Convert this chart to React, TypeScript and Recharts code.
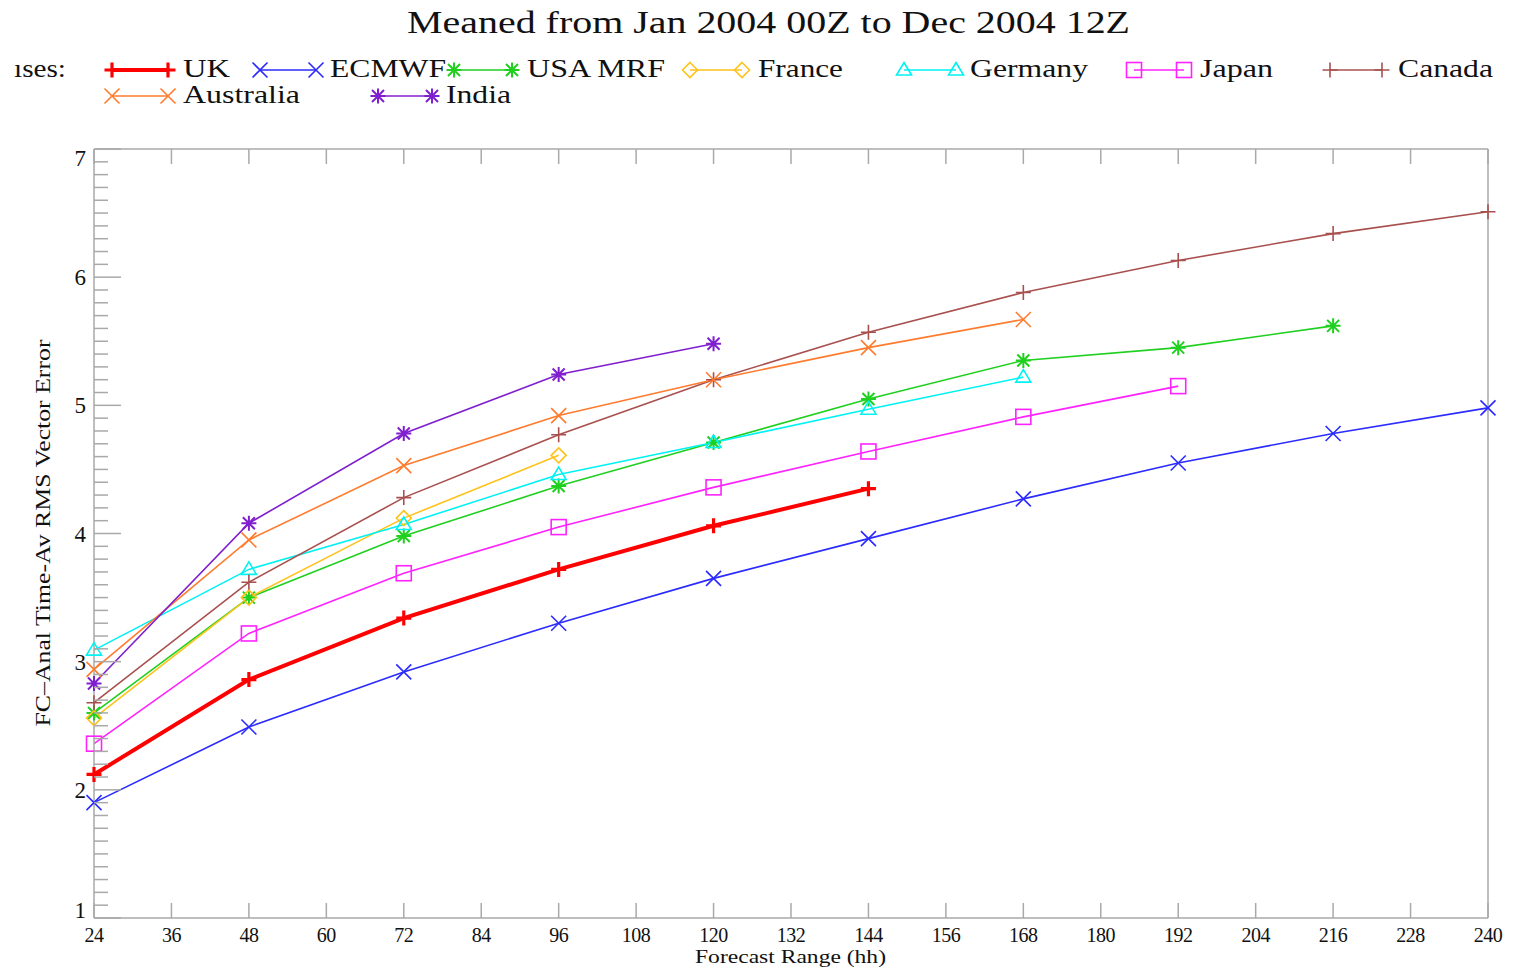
import React from 'react';
import { LineChart, Line, XAxis, YAxis } from 'recharts';

// forecast hours and RMS vector error per centre
const hours = [24, 48, 72, 96, 120, 144, 168, 192, 216, 240];
const ukValues = [2.12, 2.86, 3.34, 3.72, 4.06, 4.35];
const ecmwfValues = [1.9, 2.49, 2.92, 3.3, 3.65, 3.96, 4.27, 4.55, 4.78, 4.98];
const usaMrfValues = [2.6, 3.5, 3.98, 4.37, 4.71, 5.05, 5.35, 5.45, 5.62];
const franceValues = [2.56, 3.5, 4.12, 4.61];
const germanyValues = [3.09, 3.72, 4.07, 4.46, 4.71, 4.97, 5.22];
const japanValues = [2.36, 3.22, 3.69, 4.05, 4.36, 4.64, 4.91, 5.15];
const canadaValues = [2.68, 3.62, 4.28, 4.77, 5.2, 5.57, 5.88, 6.13, 6.34, 6.51];
const australiaValues = [2.94, 3.95, 4.53, 4.92, 5.2, 5.45, 5.67];
const indiaValues = [2.83, 4.08, 4.78, 5.24, 5.48];

const xTicks = [24, 36, 48, 60, 72, 84, 96, 108, 120, 132, 144, 156, 168, 180, 192, 204, 216, 228, 240];
const yTicks = [1, 2, 3, 4, 5, 6, 7];
// minor ticks every 0.1 between the labelled ones
const yAllTicks = Array.from({ length: 61 }, (_, i) => Math.round((1 + i * 0.1) * 10) / 10);

type Kind = 'plus' | 'x' | 'star' | 'diamond' | 'triangle' | 'square';

const series = [
  { key: 'uk', name: 'UK', values: ukValues, color: '#ff0000', kind: 'plus' as Kind, width: 4 },
  { key: 'ecmwf', name: 'ECMWF', values: ecmwfValues, color: '#2b2bff', kind: 'x' as Kind, width: 1.6 },
  { key: 'usa', name: 'USA MRF', values: usaMrfValues, color: '#1fd01f', kind: 'star' as Kind, width: 1.6 },
  { key: 'france', name: 'France', values: franceValues, color: '#ffc21a', kind: 'diamond' as Kind, width: 1.6 },
  { key: 'germany', name: 'Germany', values: germanyValues, color: '#00f2f2', kind: 'triangle' as Kind, width: 1.6 },
  { key: 'japan', name: 'Japan', values: japanValues, color: '#ff22ff', kind: 'square' as Kind, width: 1.6 },
  { key: 'canada', name: 'Canada', values: canadaValues, color: '#a8504e', kind: 'plus' as Kind, width: 1.6 },
  { key: 'australia', name: 'Australia', values: australiaValues, color: '#ff7b2e', kind: 'x' as Kind, width: 1.6 },
  { key: 'india', name: 'India', values: indiaValues, color: '#7f1fcf', kind: 'star' as Kind, width: 1.6 },
];

const data = hours.map((h, i) => {
  const row: Record<string, number | undefined> = { hour: h };
  series.forEach((s) => { row[s.key] = s.values[i]; });
  return row;
});

// legend layout: [series key, line start, line end, row y, text x, text width]
const legendLayout: [string, number, number, number, number, number][] = [
  ['uk', 112, 168, 70, 183, 47],
  ['ecmwf', 260, 316, 70, 330, 116],
  ['usa', 454, 512, 70, 527, 138],
  ['france', 690, 742, 70, 758, 85],
  ['germany', 904, 956, 70, 970, 118],
  ['japan', 1134, 1184, 70, 1200, 73],
  ['canada', 1330, 1382, 70, 1398, 95],
  ['australia', 112, 168, 96, 183, 117],
  ['india', 378, 432, 96, 446, 65],
];

const GRAY = '#a9a9a9';
const FONT = '"Liberation Serif", "DejaVu Serif", serif';

function Marker({ kind, cx, cy, color, bold }: { kind: Kind; cx: number; cy: number; color: string; bold?: boolean }) {
  const s = 7.5;
  const sw = bold ? 3.2 : 1.6;
  const common = { stroke: color, strokeWidth: sw, fill: 'none' };
  switch (kind) {
    case 'plus':
      return <path d={`M${cx - s},${cy}H${cx + s}M${cx},${cy - s}V${cy + s}`} {...common} />;
    case 'x':
      return <path d={`M${cx - s},${cy - s}L${cx + s},${cy + s}M${cx - s},${cy + s}L${cx + s},${cy - s}`} {...common} />;
    case 'star':
      return (
        <path
          d={`M${cx - s},${cy}H${cx + s}M${cx},${cy - s}V${cy + s}M${cx - 6},${cy - 6}L${cx + 6},${cy + 6}M${cx - 6},${cy + 6}L${cx + 6},${cy - 6}`}
          {...common}
          strokeWidth={2}
        />
      );
    case 'diamond':
      return <path d={`M${cx},${cy - s}L${cx + s},${cy}L${cx},${cy + s}L${cx - s},${cy}Z`} {...common} />;
    case 'triangle':
      return <path d={`M${cx},${cy - s}L${cx + s},${cy + 5}L${cx - s},${cy + 5}Z`} {...common} />;
    case 'square':
      return <rect x={cx - s} y={cy - s} width={2 * s} height={2 * s} {...common} />;
  }
  return null;
}

function LeftTick(props: any) {
  const { x, y, payload } = props;
  const v = payload.value;
  const major = yTicks.includes(v);
  let ly = y + 8;
  if (v === 7) ly = y + 17;
  if (v === 1) ly = y;
  return (
    <g>
      <line x1={x} x2={x + (major ? 27 : 14)} y1={y} y2={y} stroke={GRAY} strokeWidth={1.5} />
      {major && (
        <text x={x - 8} y={ly} textAnchor="end" fontFamily={FONT} fontSize={23} fill="#111">
          {v}
        </text>
      )}
    </g>
  );
}

function RightTick(props: any) {
  const { x, y, payload } = props;
  const major = yTicks.includes(payload.value);
  return <line x1={x} x2={x - (major ? 27 : 14)} y1={y} y2={y} stroke={GRAY} strokeWidth={1.5} />;
}

function BottomTick(props: any) {
  const { x, y, payload } = props;
  return (
    <g>
      <line x1={x} x2={x} y1={y} y2={y - 15} stroke={GRAY} strokeWidth={1.5} />
      <text x={x} y={y + 24} textAnchor="middle" fontFamily={FONT} fontSize={20} letterSpacing={-0.5} fill="#111">
        {payload.value}
      </text>
    </g>
  );
}

function TopTick(props: any) {
  const { x, y } = props;
  return <line x1={x} x2={x} y1={y} y2={y + 15} stroke={GRAY} strokeWidth={1.5} />;
}

export default function App() {
  return (
    <div style={{ position: 'absolute', left: 0, top: 0, width: 1513, height: 968, background: '#fff' }}>
      <LineChart width={1513} height={968} data={data} margin={{ top: 148, right: 24, bottom: 49, left: 93 }}>
        <XAxis
          dataKey="hour"
          type="number"
          domain={[24, 240]}
          ticks={xTicks}
          interval={0}
          tickSize={0}
          tickMargin={0}
          height={1}
          axisLine={{ stroke: GRAY, strokeWidth: 1.5 }}
          tickLine={false}
          tick={<BottomTick />}
        />
        <XAxis
          xAxisId="top"
          orientation="top"
          dataKey="hour"
          type="number"
          domain={[24, 240]}
          ticks={xTicks}
          interval={0}
          tickSize={0}
          tickMargin={0}
          height={1}
          axisLine={{ stroke: GRAY, strokeWidth: 1.5 }}
          tickLine={false}
          tick={<TopTick />}
        />
        <YAxis
          type="number"
          domain={[1, 7]}
          ticks={yAllTicks}
          interval={0}
          tickSize={0}
          tickMargin={0}
          width={1}
          axisLine={{ stroke: GRAY, strokeWidth: 1.5 }}
          tickLine={false}
          tick={<LeftTick />}
        />
        <YAxis
          yAxisId="right"
          orientation="right"
          type="number"
          domain={[1, 7]}
          ticks={yAllTicks}
          interval={0}
          tickSize={0}
          tickMargin={0}
          width={1}
          axisLine={{ stroke: GRAY, strokeWidth: 1.5 }}
          tickLine={false}
          tick={<RightTick />}
        />
        {series.map((s) => (
          <Line
            key={s.key}
            dataKey={s.key}
            stroke={s.color}
            strokeWidth={s.width}
            isAnimationActive={false}
            dot={(p: any) =>
              p.cy == null || p.value == null ? (
                <g key={`${s.key}-${p.index}`} />
              ) : (
                <g key={`${s.key}-${p.index}`}>
                  <Marker kind={s.kind} cx={p.cx} cy={p.cy} color={s.color} bold={s.key === 'uk'} />
                </g>
              )
            }
            activeDot={false}
          />
        ))}
      </LineChart>
      <svg width={1513} height={968} style={{ position: 'absolute', left: 0, top: 0, pointerEvents: 'none' }}>
        <text x={407} y={33} fontFamily={FONT} fontSize={32} textLength={723} lengthAdjust="spacingAndGlyphs" fill="#111">
          Meaned from Jan 2004 00Z to Dec 2004 12Z
        </text>
        <text x={14} y={77} fontFamily={FONT} fontSize={25} textLength={52} lengthAdjust="spacingAndGlyphs" fill="#111">
          ıses:
        </text>
        {legendLayout.map(([key, x1, x2, ly, tx, tw]) => {
          const s = series.find((d) => d.key === key)!;
          return (
            <g key={key}>
              <line x1={x1} x2={x2} y1={ly} y2={ly} stroke={s.color} strokeWidth={s.width} />
              <Marker kind={s.kind} cx={x1} cy={ly} color={s.color} bold={key === 'uk'} />
              <Marker kind={s.kind} cx={x2} cy={ly} color={s.color} bold={key === 'uk'} />
              <text x={tx} y={ly + 7} fontFamily={FONT} fontSize={25} textLength={tw} lengthAdjust="spacingAndGlyphs" fill="#111">
                {s.name}
              </text>
            </g>
          );
        })}
        <text
          transform="translate(50,533) rotate(-90)"
          textAnchor="middle"
          fontFamily={FONT}
          fontSize={22}
          textLength={387}
          lengthAdjust="spacingAndGlyphs"
          fill="#111"
        >
          FC–Anal Time-Av RMS Vector Error
        </text>
        <text x={695} y={963} fontFamily={FONT} fontSize={19} textLength={191} lengthAdjust="spacingAndGlyphs" fill="#111">
          Forecast Range (hh)
        </text>
      </svg>
    </div>
  );
}
